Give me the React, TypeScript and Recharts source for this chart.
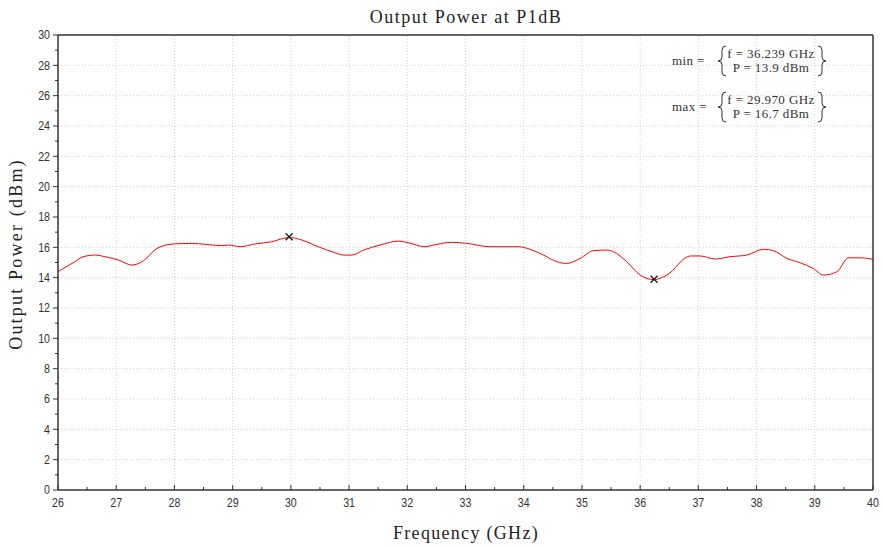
import {
  ComposedChart,
  Line,
  Scatter,
  XAxis,
  YAxis,
  ReferenceLine,
} from 'recharts';

// frequency (GHz) and output power at P1dB (dBm)
const freqs = [
  26, 26.29, 26.43, 26.64, 26.81, 27.04, 27.27, 27.47, 27.7, 27.98,
  28.3, 28.53, 28.81, 28.93, 29.13, 29.38, 29.67, 29.97, 30.19, 30.47,
  30.76, 30.9, 31.05, 31.25, 31.53, 31.85, 32.02, 32.3, 32.51, 32.76,
  33.02, 33.42, 33.91, 34.11, 34.34, 34.57, 34.74, 34.97, 35.2, 35.43,
  35.54, 35.77, 36.0, 36.239, 36.46, 36.86, 37.03, 37.29, 37.54, 37.83,
  38.12, 38.29, 38.52, 38.75, 38.97, 39.15, 39.38, 39.58, 39.78, 40,
];
const powers = [
  14.4, 15.05, 15.38, 15.49, 15.38, 15.16, 14.83, 15.12, 15.93, 16.22,
  16.26, 16.2, 16.11, 16.15, 16.04, 16.22, 16.37, 16.65, 16.48, 16.04,
  15.64, 15.49, 15.49, 15.82, 16.15, 16.41, 16.3, 16.04, 16.2, 16.33,
  16.26, 16.04, 16.04, 15.87, 15.49, 15.05, 14.94, 15.27, 15.78, 15.82,
  15.71, 15.05, 14.17, 13.87, 14.17, 15.43, 15.43, 15.23, 15.38, 15.49,
  15.87, 15.78, 15.27, 14.98, 14.61, 14.17, 14.39, 15.31, 15.31, 15.21,
];

const markF = [29.97, 36.239];
const markP = [16.7, 13.9];

const freqTicks = [
  26, 26.5, 27, 27.5, 28, 28.5, 29, 29.5, 30, 30.5, 31, 31.5, 32, 32.5,
  33, 33.5, 34, 34.5, 35, 35.5, 36, 36.5, 37, 37.5, 38, 38.5, 39, 39.5, 40,
];
const freqGrid = [27, 28, 29, 30, 31, 32, 33, 34, 35, 36, 37, 38, 39];
const powerTicks = [
  0, 1, 2, 3, 4, 5, 6, 7, 8, 9, 10, 11, 12, 13, 14, 15, 16, 17, 18, 19, 20,
  21, 22, 23, 24, 25, 26, 27, 28, 29, 30,
];
const powerGrid = [2, 4, 6, 8, 10, 12, 14, 16, 18, 20, 22, 24, 26, 28];

const curve = freqs.map((f, i) => ({ f, p: powers[i] }));
const marks = markF.map((f, i) => ({ f, p: markP[i] }));

const AXIS = '#333';
const TICK_FONT = '"Liberation Sans Narrow", "Liberation Sans", Arial, sans-serif';
const SERIF = '"Liberation Serif", "DejaVu Serif", serif';

const isMajorX = (v: number) => Number.isInteger(v);
const isMajorY = (v: number) => v % 2 === 0;

// narrow the tick digits a little, like the reference's condensed font
const squeeze = (x: number) => `translate(${x} 0) scale(0.82 1) translate(${-x} 0)`;

const BottomTick = (props: any) => {
  const { x, y, payload } = props;
  const major = isMajorX(payload.value);
  return (
    <g>
      <line x1={x} x2={x} y1={y} y2={y - (major ? 5 : 3)} stroke={AXIS} />
      {major && (
        <text x={x} y={y + 17} textAnchor="middle" fontSize={13} fill="#333" fontFamily={TICK_FONT} transform={squeeze(x)}>
          {payload.value}
        </text>
      )}
    </g>
  );
};

const TopTick = (props: any) => {
  const { x, y, payload } = props;
  const major = isMajorX(payload.value);
  return <line x1={x} x2={x} y1={y} y2={y + (major ? 5 : 3)} stroke={AXIS} />;
};

const LeftTick = (props: any) => {
  const { x, y, payload } = props;
  const major = isMajorY(payload.value);
  return (
    <g>
      <line x1={x} x2={x - (major ? 5 : 3)} y1={y} y2={y} stroke={AXIS} />
      {major && (
        <text x={x - 8} y={y + 4.5} textAnchor="end" fontSize={13} fill="#333" fontFamily={TICK_FONT} transform={squeeze(x - 8)}>
          {payload.value}
        </text>
      )}
    </g>
  );
};

const RightTick = (props: any) => {
  const { x, y, payload } = props;
  const major = isMajorY(payload.value);
  return <line x1={x} x2={x - (major ? 5 : 3)} y1={y} y2={y} stroke={AXIS} />;
};

const Cross = (props: any) => {
  const { cx, cy } = props;
  const s = 3.5;
  return (
    <g stroke="#222" strokeWidth={1.4}>
      <line x1={cx - s} y1={cy - s} x2={cx + s} y2={cy + s} />
      <line x1={cx - s} y1={cy + s} x2={cx + s} y2={cy - s} />
    </g>
  );
};

// curly brace drawn as a path, centred vertically on cy
const Brace = ({ x, cy, dir }: { x: number; cy: number; dir: 1 | -1 }) => {
  const h = 15;
  const w = 4 * dir;
  const d = `M ${x + w} ${cy - h} Q ${x} ${cy - h} ${x} ${cy - h + 4} L ${x} ${cy - 4} Q ${x} ${cy} ${x - w} ${cy} Q ${x} ${cy} ${x} ${cy + 4} L ${x} ${cy + h - 4} Q ${x} ${cy + h} ${x + w} ${cy + h}`;
  return <path d={d} fill="none" stroke="#333" strokeWidth={1} />;
};

const Annotation = ({ y, label, f, p }: { y: number; label: string; f: string; p: string }) => (
  <g fontFamily={SERIF} fontSize={13} fill="#333" letterSpacing={0.4}>
    <text x={672} y={y + 4}>{label}</text>
    <Brace x={722} cy={y} dir={1} />
    <text x={771} y={y - 3} textAnchor="middle">{f}</text>
    <text x={771} y={y + 11} textAnchor="middle">{p}</text>
    <Brace x={822} cy={y} dir={-1} />
  </g>
);

const Overlay = () => (
  <svg
    width={882}
    height={546}
    style={{ position: 'absolute', left: 0, top: 0, pointerEvents: 'none', overflow: 'visible' }}
  >
    <text x={466} y={23} textAnchor="middle" fontSize={18} letterSpacing={1.5} fontFamily={SERIF} fill="#222">
      Output Power at P1dB
    </text>
    <text x={466} y={539} textAnchor="middle" fontSize={18} letterSpacing={1.3} fontFamily={SERIF} fill="#222">
      Frequency (GHz)
    </text>
    <text x={22} y={254} textAnchor="middle" fontSize={18} letterSpacing={2.2} fontFamily={SERIF} fill="#222" transform="rotate(-90 22 254)">
      Output Power (dBm)
    </text>
    <Annotation y={61} label="min =" f="f = 36.239 GHz" p="P = 13.9 dBm" />
    <Annotation y={107} label="max =" f="f = 29.970 GHz" p="P = 16.7 dBm" />
  </svg>
);

export default function App() {
  return (
    <div style={{ position: 'absolute', left: 0, top: 0, width: 882, height: 546, background: '#fff' }}>
      <ComposedChart
        width={882}
        height={546}
        margin={{ top: 30, right: 4, bottom: 26, left: 18 }}
        style={{ overflow: 'visible' }}
      >
        <XAxis
          xAxisId={0}
          dataKey="f"
          type="number"
          domain={[26, 40]}
          ticks={freqTicks}
          interval={0}
          height={30}
          tickSize={0}
          tickMargin={0}
          tickLine={false}
          tick={<BottomTick />}
          axisLine={{ stroke: AXIS, strokeWidth: 1.5 }}
        />
        <XAxis
          xAxisId="top"
          orientation="top"
          dataKey="f"
          type="number"
          domain={[26, 40]}
          ticks={freqTicks}
          interval={0}
          height={5}
          tickSize={0}
          tickMargin={0}
          tickLine={false}
          tick={<TopTick />}
          axisLine={{ stroke: AXIS, strokeWidth: 1.5 }}
        />
        <YAxis
          yAxisId={0}
          type="number"
          domain={[0, 30]}
          ticks={powerTicks}
          interval={0}
          width={40}
          tickSize={0}
          tickMargin={0}
          tickLine={false}
          tick={<LeftTick />}
          axisLine={{ stroke: AXIS, strokeWidth: 1.5 }}
        />
        <YAxis
          yAxisId="right"
          orientation="right"
          type="number"
          domain={[0, 30]}
          ticks={powerTicks}
          interval={0}
          width={5}
          tickSize={0}
          tickMargin={0}
          tickLine={false}
          tick={<RightTick />}
          axisLine={{ stroke: AXIS, strokeWidth: 1.5 }}
        />
        {freqGrid.map((v) => (
          <ReferenceLine key={`gx${v}`} x={v} stroke="#cfcfcf" strokeDasharray="1 2" />
        ))}
        {powerGrid.map((v) => (
          <ReferenceLine key={`gy${v}`} y={v} stroke="#cfcfcf" strokeDasharray="1 2" />
        ))}
        <Line
          data={curve}
          dataKey="p"
          type="monotone"
          stroke="#ff0000"
          strokeWidth={1}
          dot={false}
          isAnimationActive={false}
        />
        <Scatter data={marks} dataKey="p" shape={<Cross />} isAnimationActive={false} />
      </ComposedChart>
      <Overlay />
    </div>
  );
}
